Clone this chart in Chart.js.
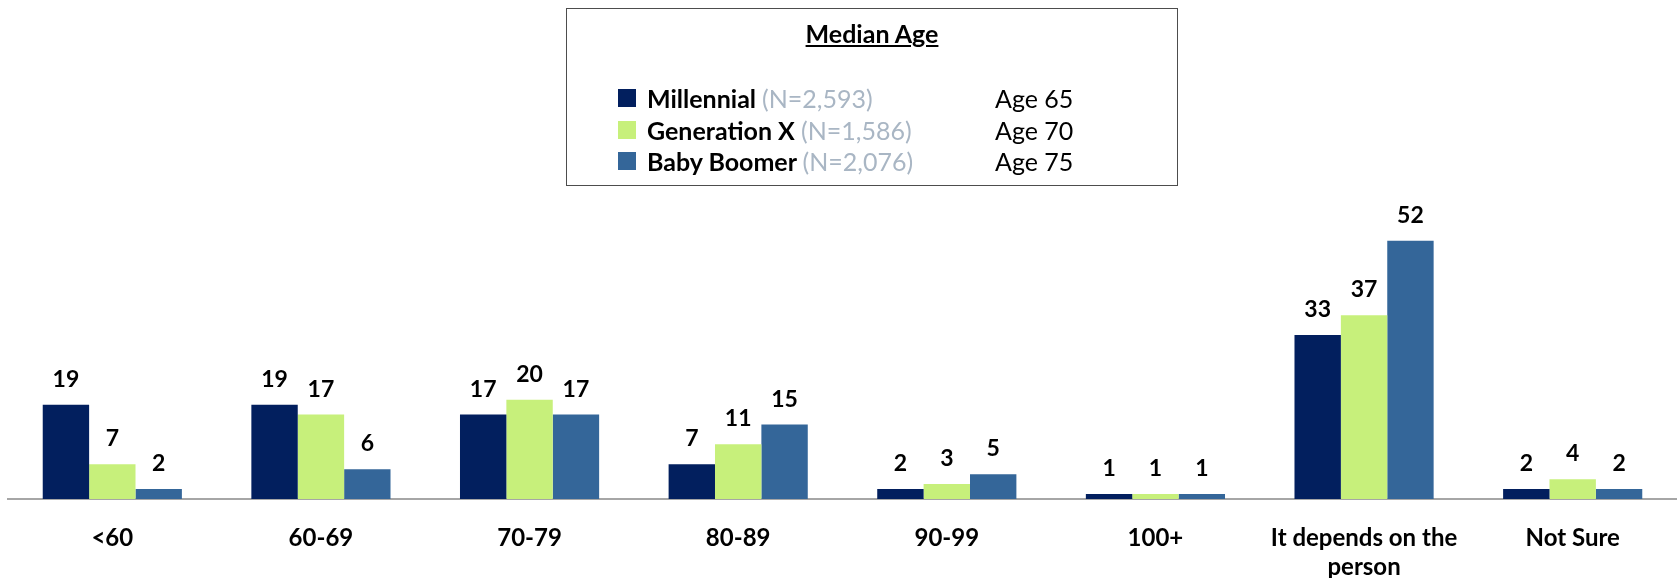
<!DOCTYPE html>
<html>
<head>
<meta charset="utf-8">
<script src="https://cdn.jsdelivr.net/npm/chart.js@4/dist/chart.umd.min.js"></script>
<style>
  html, body { margin: 0; padding: 0; background: #fff; }
  #wrap { position: relative; width: 1677px; height: 578px; }
  #chart { position: absolute; left: 0; top: 0; }
  #keyBox {
    position: absolute; left: 566px; top: 8px; width: 612px; height: 178px;
    border: 1.5px solid #4d4d4d; box-sizing: border-box; font-family: Lato, sans-serif;
  }
  #keyTitle {
    position: absolute; left: 0; right: 0; top: 9px; text-align: center;
    font-weight: bold; font-size: 25px; text-decoration: underline; color: #000;
  }
  .row { position: absolute; left: 51px; height: 30px; font-size: 25px; line-height: 30px; }
  .swatch { position: absolute; left: 0; top: 6px; width: 18px; height: 18px; }
  .name { position: absolute; left: 29px; white-space: nowrap; font-weight: bold; color: #000; }
  .n { font-weight: normal; color: #a9b6c4; }
  .age { position: absolute; left: 377px; white-space: nowrap; color: #000; }
</style>
</head>
<body>
<div id="wrap">
  <canvas id="chart" width="1677" height="578"></canvas>
  <div id="keyBox"><div id="keyTitle">Median Age</div></div>
</div>
<script>
const categories = ['<60', '60-69', '70-79', '80-89', '90-99', '100+', ['It depends on the', 'person'], 'Not Sure'];
const seriesNames = ['Millennial', 'Generation X', 'Baby Boomer'];
const sampleSizes = ['N=2,593', 'N=1,586', 'N=2,076'];
const medianAges = [65, 70, 75];
const millennial = [19, 19, 17, 7, 2, 1, 33, 2];
const generationX = [7, 17, 20, 11, 3, 1, 37, 4];
const babyBoomer = [2, 6, 17, 15, 5, 1, 52, 2];
const colors = ['#021f5e', '#c7f07b', '#346699'];

// key box built from the arrays
const box = document.getElementById('keyBox');
seriesNames.forEach((name, i) => {
  const row = document.createElement('div');
  row.className = 'row';
  row.style.top = (74 + i * 31.5) + 'px';
  row.innerHTML =
    '<span class="swatch" style="background:' + colors[i] + '"></span>' +
    '<span class="name">' + name + ' <span class="n">(' + sampleSizes[i] + ')</span></span>' +
    '<span class="age">Age ' + medianAges[i] + '</span>';
  box.appendChild(row);
});

const valueLabels = {
  id: 'valueLabels',
  afterDatasetsDraw(chart) {
    const ctx = chart.ctx;
    ctx.save();
    ctx.font = 'bold 23px Lato';
    ctx.fillStyle = '#000';
    ctx.textAlign = 'center';
    ctx.textBaseline = 'alphabetic';
    chart.data.datasets.forEach((ds, i) => {
      chart.getDatasetMeta(i).data.forEach((bar, j) => {
        ctx.fillText(ds.data[j], bar.x, bar.y - 18);
      });
    });
    ctx.restore();
  }
};

new Chart(document.getElementById('chart'), {
  type: 'bar',
  data: {
    labels: categories,
    datasets: [
      { label: seriesNames[0], data: millennial, backgroundColor: colors[0] },
      { label: seriesNames[1], data: generationX, backgroundColor: colors[1] },
      { label: seriesNames[2], data: babyBoomer, backgroundColor: colors[2] }
    ]
  },
  options: {
    responsive: false,
    animation: false,
    layout: { padding: { left: 8, right: 0, top: 201, bottom: 0 } },
    datasets: { bar: { categoryPercentage: 0.667, barPercentage: 1.0 } },
    plugins: { legend: { display: false }, tooltip: { enabled: false } },
    scales: {
      x: {
        grid: { display: false },
        border: { display: true, color: '#a6a6a6', width: 2 },
        ticks: { color: '#000', font: { family: 'Lato', weight: 'bold', size: 24 }, padding: 17, maxRotation: 0 },
        afterFit: s => { s.height = 79; }
      },
      y: { display: false, min: 0, max: 60 }
    }
  },
  plugins: [valueLabels]
});
</script>
</body>
</html>
